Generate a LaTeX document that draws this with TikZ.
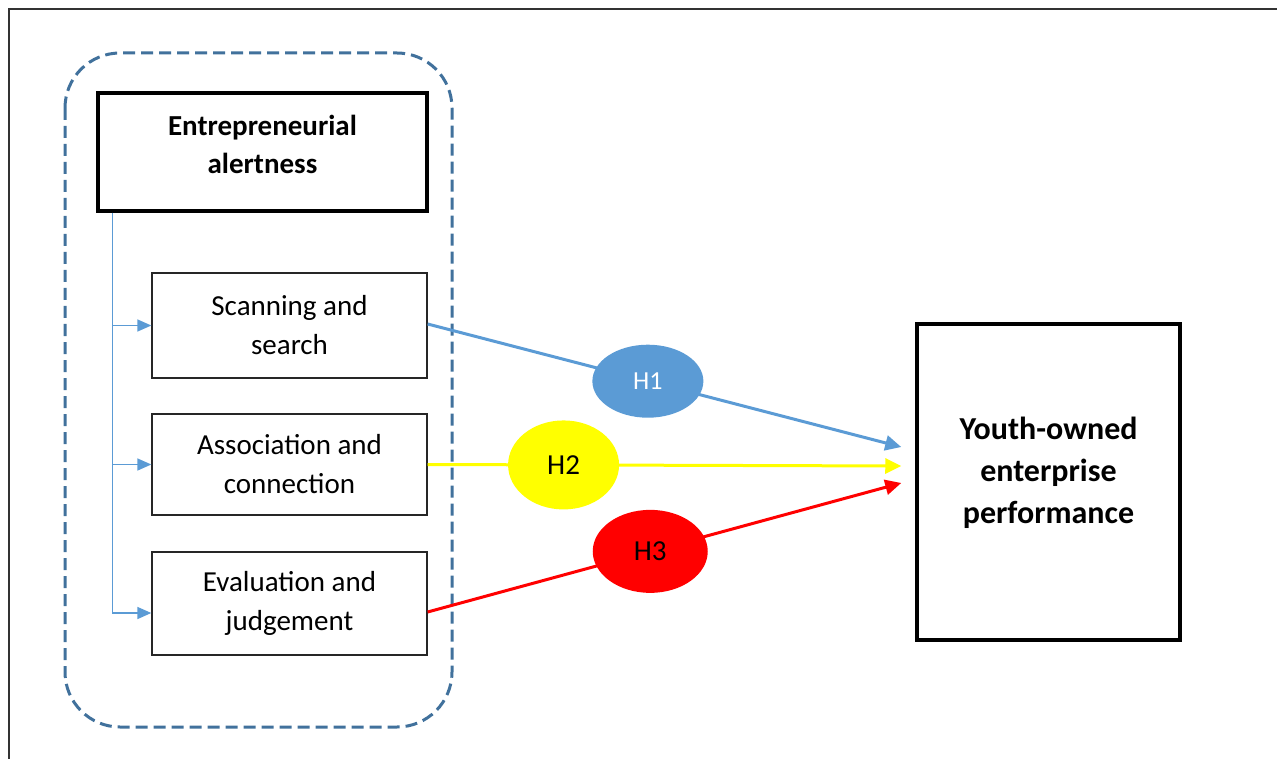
\documentclass[tikz,border=0pt]{standalone}
\usepackage{fontspec}
\setmainfont{Carlito}
\usetikzlibrary{arrows.meta,shapes.geometric}
\definecolor{hblue}{HTML}{5B9BD5}
\definecolor{dblue}{HTML}{41719C}
\definecolor{hyellow}{HTML}{FFFF00}
\definecolor{hred}{HTML}{FF0000}
\begin{document}
\begin{tikzpicture}[x=1pt,y=-1pt,
  txt/.style={font=\fontsize{29}{39}\selectfont, align=center},
  bigbox/.style={draw=black, line width=3.5pt, inner sep=0pt},
  bigtxt/.style={align=center, inner sep=0pt},
  subbox/.style={draw=black!85, line width=1.3pt, minimum width=275pt, inner sep=0pt, txt},
  tree/.style={draw=hblue, line width=1.5pt, -{Triangle[length=14pt,width=12pt]}},
  hyp/.style={line width=3pt, -{Triangle[length=16pt,width=15pt]}},
  hnode/.style={ellipse, inner sep=0pt, draw=none}
]
\useasboundingbox (0,0) rectangle (1277,759);
% frame
\draw[line width=2pt, black!80] (9,759) -- (9,9) -- (1277,9);
% dashed group
\draw[dblue, line width=3pt, dash pattern=on 12pt off 6pt, rounded corners=55pt] (65,53) rectangle (452,727);
% boxes
\node[bigbox, minimum width=329pt, minimum height=118pt] (ea) at (262.5,152) {};
\node[bigtxt, font=\bfseries\fontsize{29}{38}\selectfont] (eat) at (262.5,144) {Entrepreneurial\\alertness};
\node[subbox, minimum height=105pt] (ss) at (289.5,325.5) {Scanning and\\search};
\node[subbox, minimum height=101pt] (ac) at (289.5,464.5) {Association and\\connection};
\node[subbox, minimum height=103pt] (ej) at (289.5,603.5) {Evaluation and\\judgement};
\node[bigbox, minimum width=263pt, minimum height=316pt] (yp) at (1048.5,482) {};
\node[bigtxt, font=\bfseries\fontsize{32}{42}\selectfont] (ypt) at (1048.5,473) {Youth-owned\\enterprise\\performance};
% tree
\coordinate (trtop) at ([xshift=16pt]ea.south west);
\coordinate (tr1) at (trtop |- ss.west);
\coordinate (tr2) at (trtop |- ac.west);
\coordinate (tr3) at ([yshift=-9.5pt]trtop |- ej.west);
\draw[draw=hblue, line width=1.5pt] (trtop) -- (tr3);
\draw[tree] (tr1) -- (ss.west);
\draw[tree] (tr2) -- (ac.west);
\draw[tree] (tr3) -- ([yshift=-9.5pt]ej.west);
% hypotheses
\coordinate (t1) at ([xshift=-14pt,yshift=35pt]yp.west);
\coordinate (t2) at ([xshift=-14pt,yshift=16pt]yp.west);
\coordinate (t3) at ([xshift=-14pt,yshift=-1pt]yp.west);
\draw[hyp, hblue] ([yshift=1.5pt]ss.east) -- node[pos=0.465, hnode, fill=hblue, minimum width=111pt, minimum height=73pt, text=white, font=\fontsize{26}{30}\selectfont] (h1) {H1} (t1);
\draw[hyp, hyellow] (ac.east) -- node[pos=0.287, hnode, fill=hyellow, minimum width=111pt, minimum height=89pt, text=black, font=\fontsize{29}{33}\selectfont] (h2) {H2} (t2);
\draw[hyp, hred] ([yshift=-8.5pt]ej.east) -- node[pos=0.47, hnode, fill=hred, minimum width=115pt, minimum height=83pt, text=black, font=\fontsize{29}{33}\selectfont] (h3) {H3} (t3);
\end{tikzpicture}
\end{document}
